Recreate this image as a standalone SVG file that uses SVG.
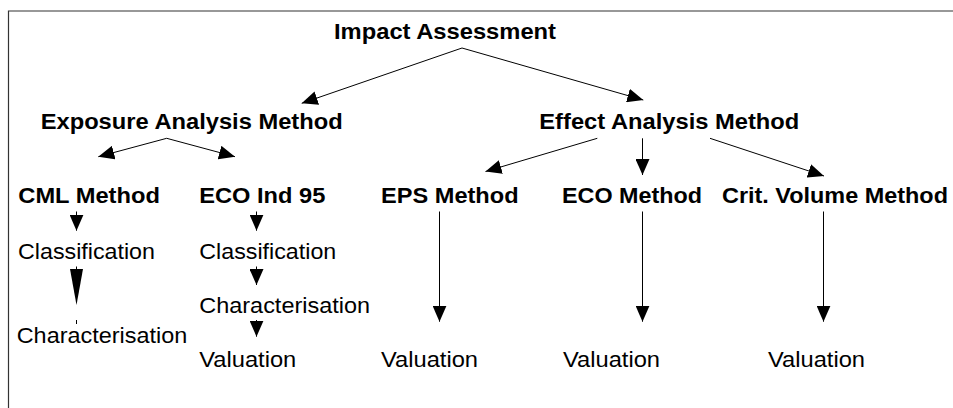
<svg xmlns="http://www.w3.org/2000/svg" width="953" height="408" viewBox="0 0 953 408">
<defs>
<style>
.b{font-family:"Liberation Sans",Arial,sans-serif;font-weight:bold;font-size:22.5px;fill:#000}
.r{font-family:"Liberation Sans",Arial,sans-serif;font-size:22.5px;fill:#000}
.c{stroke:#000;stroke-width:1;fill:none}
.frame{stroke:#333;stroke-width:1.2;fill:none}
</style>
<marker id="ah" markerUnits="userSpaceOnUse" markerWidth="16" markerHeight="14" refX="16" refY="7" orient="auto">
<path d="M0,0 L16,7 L0,14 z" fill="#000"/>
</marker>
</defs>
<rect width="953" height="408" fill="#fff"/>
<path class="frame" d="M953,11 H8.5 V408"/>
<g id="connectors">
<line class="c" x1="462" y1="48" x2="301.7" y2="103.3" marker-end="url(#ah)"/>
<line class="c" x1="462" y1="48" x2="643.3" y2="100" marker-end="url(#ah)"/>
<line class="c" x1="166.7" y1="138.3" x2="98.3" y2="156.7" marker-end="url(#ah)"/>
<line class="c" x1="166.7" y1="138.3" x2="235" y2="156.7" marker-end="url(#ah)"/>
<line class="c" x1="597.3" y1="138.3" x2="485.5" y2="171.5" marker-end="url(#ah)"/>
<line class="c" x1="642.5" y1="138.3" x2="642.5" y2="175" marker-end="url(#ah)"/>
<line class="c" x1="710" y1="138.3" x2="824" y2="176" marker-end="url(#ah)"/>
<line class="c" x1="76.5" y1="211.5" x2="76.5" y2="230.7" marker-end="url(#ah)"/>
<line class="c" x1="256.5" y1="211.5" x2="256.5" y2="230.7" marker-end="url(#ah)"/>
<line class="c" x1="76.5" y1="266.5" x2="76.5" y2="270"/>
<polygon points="70,269 83,269 76.5,305" fill="#000"/>
<line class="c" x1="76.5" y1="320" x2="76.5" y2="324"/>
<line class="c" x1="256.5" y1="266.5" x2="256.5" y2="285" marker-end="url(#ah)"/>
<line class="c" x1="256.5" y1="320" x2="256.5" y2="336.7" marker-end="url(#ah)"/>
<line class="c" x1="439.5" y1="211.5" x2="439.5" y2="321.7" marker-end="url(#ah)"/>
<line class="c" x1="642.5" y1="211.5" x2="642.5" y2="321.7" marker-end="url(#ah)"/>
<line class="c" x1="823.5" y1="211.5" x2="823.5" y2="321.7" marker-end="url(#ah)"/>
</g>
<g id="impact"><text class="b" x="334" y="39.3" textLength="222" lengthAdjust="spacingAndGlyphs">Impact Assessment</text></g>
<g id="exposure"><text class="b" x="40.7" y="129.3" textLength="302" lengthAdjust="spacingAndGlyphs">Exposure Analysis Method</text></g>
<g id="effect"><text class="b" x="539.3" y="129.3" textLength="260" lengthAdjust="spacingAndGlyphs">Effect Analysis Method</text></g>
<g id="cml"><text class="b" x="18.3" y="203.3" textLength="141.6" lengthAdjust="spacingAndGlyphs">CML Method</text></g>
<g id="ecoind"><text class="b" x="199.3" y="203.3" textLength="126" lengthAdjust="spacingAndGlyphs">ECO Ind 95</text></g>
<g id="eps"><text class="b" x="381" y="203.3" textLength="137.6" lengthAdjust="spacingAndGlyphs">EPS Method</text></g>
<g id="eco"><text class="b" x="562" y="203.3" textLength="140" lengthAdjust="spacingAndGlyphs">ECO Method</text></g>
<g id="crit"><text class="b" x="722" y="203.3" textLength="226" lengthAdjust="spacingAndGlyphs">Crit. Volume Method</text></g>
<g id="cml-class"><text class="r" x="18" y="258.7" textLength="137" lengthAdjust="spacingAndGlyphs">Classification</text></g>
<g id="cml-char"><text class="r" x="16.7" y="343.3" textLength="170.6" lengthAdjust="spacingAndGlyphs">Characterisation</text></g>
<g id="ecoind-class"><text class="r" x="199.3" y="258.7" textLength="137" lengthAdjust="spacingAndGlyphs">Classification</text></g>
<g id="ecoind-char"><text class="r" x="199.3" y="312.7" textLength="170.7" lengthAdjust="spacingAndGlyphs">Characterisation</text></g>
<g id="ecoind-val"><text class="r" x="199.3" y="366.7" textLength="97" lengthAdjust="spacingAndGlyphs">Valuation</text></g>
<g id="eps-val"><text class="r" x="381" y="366.7" textLength="97" lengthAdjust="spacingAndGlyphs">Valuation</text></g>
<g id="eco-val"><text class="r" x="563" y="366.7" textLength="97" lengthAdjust="spacingAndGlyphs">Valuation</text></g>
<g id="crit-val"><text class="r" x="768" y="366.7" textLength="97" lengthAdjust="spacingAndGlyphs">Valuation</text></g>
</svg>
